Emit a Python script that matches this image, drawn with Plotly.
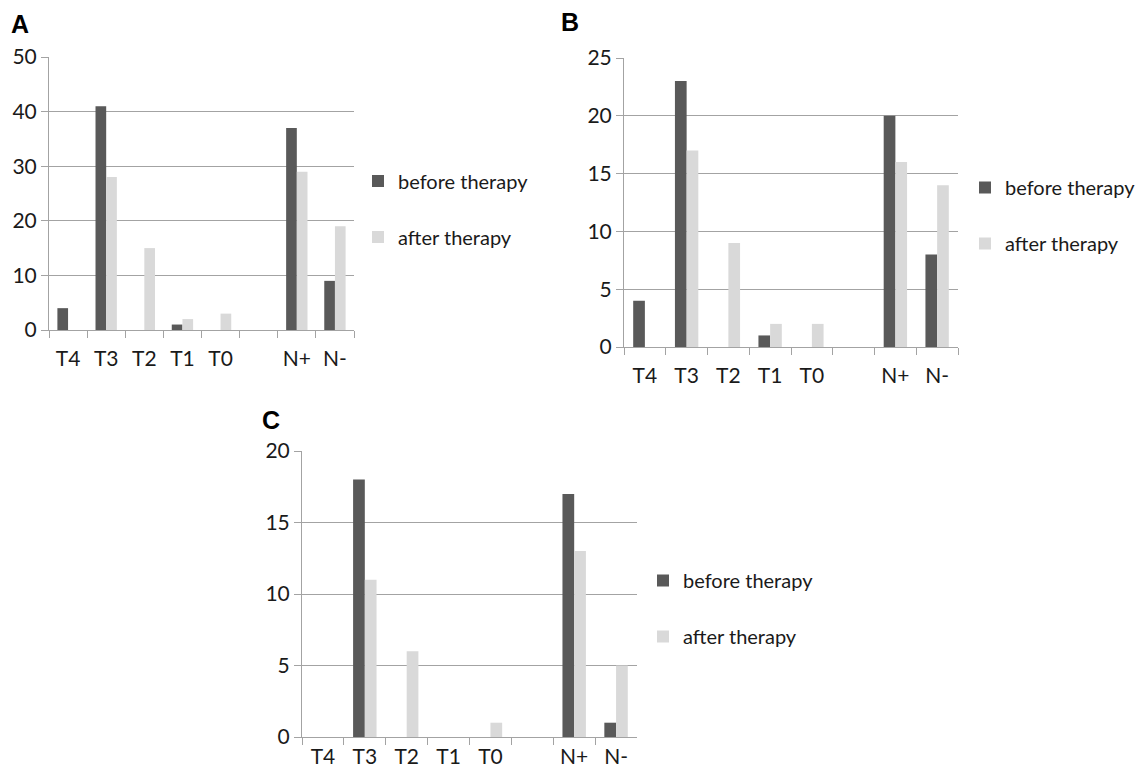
import plotly.graph_objects as go

categories = ["T4", "T3", "T2", "T1", "T0", " ", "N+", "N-"]

a_before = [4, 41, 0, 1, 0, 0, 37, 9]
a_after = [0, 28, 15, 2, 3, 0, 29, 19]

b_before = [4, 23, 0, 1, 0, 0, 20, 8]
b_after = [0, 17, 9, 2, 2, 0, 16, 14]

c_before = [0, 18, 0, 0, 0, 0, 17, 1]
c_after = [0, 11, 6, 0, 1, 0, 13, 5]

series_names = ["before therapy", "after therapy"]
panel_labels = ["A", "B", "C"]
y_max = [50, 25, 20]
y_step = [10, 5, 5]

W, H = 1145, 770
DARK = "#595959"
LIGHT = "#d9d9d9"
GRID = "#a3a3a3"
FONT = "Lato"

# pixel boxes (left, top, right, bottom)
boxes = [(49, 57, 354, 330), (624, 58, 958, 347), (302, 451, 637, 737)]
legend_pos = [(358, 209), (965, 215.5), (643, 608.5)]
label_pos = [(9, 24), (559, 22), (260, 420)]
x_label_standoff = [10, 10, 1]

data = [(a_before, a_after), (b_before, b_after), (c_before, c_after)]

fig = go.Figure()
for i, (bef, aft) in enumerate(data):
    sfx = "" if i == 0 else str(i + 1)
    leg = "legend" if i == 0 else f"legend{i + 1}"
    for name, vals, col in zip(series_names, (bef, aft), (DARK, LIGHT)):
        fig.add_trace(go.Bar(
            x=categories, y=vals, name=name,
            marker=dict(color=col, line=dict(width=0)),
            xaxis="x" + sfx, yaxis="y" + sfx,
            legend=leg, legendgroup=f"{name}{i}",
        ))

layout = dict(
    width=W, height=H,
    margin=dict(l=0, r=0, t=0, b=0, autoexpand=False),
    paper_bgcolor="white", plot_bgcolor="white",
    barmode="group", bargap=0.44, bargroupgap=0,
    font=dict(family=FONT, size=19, color="#1a1a1a"),
    annotations=[],
)
for i, (l, t, r, b) in enumerate(boxes):
    sfx = "" if i == 0 else str(i + 1)
    layout["xaxis" + sfx] = dict(
        domain=[l / W, r / W], anchor="y" + sfx,
        type="category", tickson="boundaries",
        showline=True, linecolor=GRID, linewidth=1,
        ticks="outside", ticklen=7, tickcolor=GRID,
        ticklabelstandoff=x_label_standoff[i],
        showgrid=False, zeroline=False, automargin=False,
        tickfont=dict(family=FONT, size=21, color="#1a1a1a"),
        fixedrange=True,
    )
    layout["yaxis" + sfx] = dict(
        domain=[1 - b / H, 1 - t / H], anchor="x" + sfx,
        range=[0, y_max[i]], dtick=y_step[i], tick0=0,
        showline=True, linecolor=GRID, linewidth=1,
        ticks="outside", ticklen=7, tickcolor=GRID,
        showgrid=True, gridcolor=GRID, gridwidth=1,
        zeroline=False, automargin=False,
        tickfont=dict(family=FONT, size=21, color="#1a1a1a"),
        fixedrange=True,
    )
    lx, ly = legend_pos[i]
    leg = "legend" if i == 0 else f"legend{i + 1}"
    layout[leg] = dict(
        x=lx / W, y=1 - ly / H, xanchor="left", yanchor="middle",
        orientation="v", tracegroupgap=27,
        bgcolor="rgba(0,0,0,0)", borderwidth=0,
        font=dict(family=FONT, size=20, color="#1a1a1a"),
    )
    px, py = label_pos[i]
    layout["annotations"].append(dict(
        text=f"<b>{panel_labels[i]}</b>", x=px / W, y=1 - py / H,
        xref="paper", yref="paper", xanchor="left", yanchor="middle",
        showarrow=False,
        font=dict(family="Liberation Sans", size=25, color="black"),
    ))

fig.update_layout(**layout)
fig.write_html(
    "out.html",
    config={"displayModeBar": False},
    post_script="document.body.style.margin='0';document.body.style.padding='0';",
)
